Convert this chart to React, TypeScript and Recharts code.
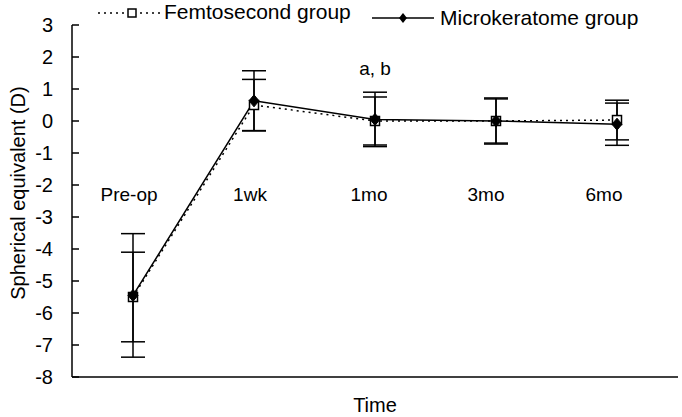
import {
  LineChart,
  Line,
  XAxis,
  YAxis,
  ErrorBar,
  ReferenceDot,
} from 'recharts';

const FONT = '"Liberation Sans", Arial, sans-serif';

const categories = ['Pre-op', '1wk', '1mo', '3mo', '6mo'];
const femtoMean = [-5.5, 0.5, 0.0, 0.0, 0.03];
const femtoSD = [1.4, 0.8, 0.75, 0.69, 0.62];
const microMean = [-5.45, 0.63, 0.05, 0.0, -0.1];
const microSD = [1.93, 0.94, 0.85, 0.72, 0.66];
const yTicks = [-8, -7, -6, -5, -4, -3, -2, -1, 0, 1, 2, 3];

// in-plot time labels sit a bit below -2
const timeLabelY = -2.3;
const timeLabelDx = [-4, -4, -6, -10, -13];
const noteCategory = '1mo';
const noteY = 1.65;
const noteText = 'a, b';

const data = categories.map((c, i) => ({
  time: c,
  femto: femtoMean[i],
  femtoErr: femtoSD[i],
  micro: microMean[i],
  microErr: microSD[i],
}));

function SquareDot(props: any) {
  const { cx, cy } = props;
  if (cx == null || cy == null) return null;
  return <rect x={cx - 4.5} y={cy - 4.5} width={9} height={9} fill="#fff" stroke="#000" strokeWidth={1.5} />;
}

function DiamondDot(props: any) {
  const { cx, cy } = props;
  if (cx == null || cy == null) return null;
  return (
    <polygon
      points={`${cx},${cy - 6} ${cx + 5},${cy} ${cx},${cy + 6} ${cx - 5},${cy}`}
      fill="#000"
      stroke="#000"
    />
  );
}

function LegendBox() {
  const text = { position: 'absolute' as const, fontSize: 21, fontFamily: FONT, color: '#000', whiteSpace: 'nowrap' as const, lineHeight: '22px' };
  return (
    <div style={{ position: 'absolute', left: 0, top: 0, width: 682, height: 30 }}>
      <svg style={{ position: 'absolute', left: 98, top: 3 }} width={62} height={20}>
        <line x1={0} y1={10} x2={62} y2={10} stroke="#000" strokeWidth={1.5} strokeDasharray="2 4" />
        <rect x={30} y={6} width={8} height={8} fill="#fff" stroke="#000" strokeWidth={1.5} />
      </svg>
      <span style={{ ...text, left: 164, top: 1 }}>Femtosecond group</span>
      <svg style={{ position: 'absolute', left: 372, top: 8 }} width={62} height={20}>
        <line x1={0} y1={10} x2={62} y2={10} stroke="#000" strokeWidth={1.5} />
        <polygon points="31,5 35,10 31,15 27,10" fill="#000" />
      </svg>
      <span style={{ ...text, left: 440, top: 7 }}>Microkeratome group</span>
    </div>
  );
}

export default function App() {
  return (
    <div style={{ position: 'absolute', left: 0, top: 0, width: 682, height: 417, background: '#fff' }}>
      <LineChart width={682} height={417} data={data} margin={{ top: 25, right: 4, bottom: 10, left: 0 }}>
        <XAxis
          dataKey="time"
          height={30}
          tick={false}
          tickLine={false}
          axisLine={{ stroke: '#000', strokeWidth: 1.5 }}
          padding={{ left: 61, right: 61 }}
          label={{ value: 'Time', position: 'insideBottom', offset: -5, fill: '#000', fontSize: 20, fontFamily: FONT }}
        />
        <YAxis
          domain={[-8, 3]}
          ticks={yTicks}
          interval={0}
          width={72}
          tickSize={-7}
          tickMargin={26}
          axisLine={{ stroke: '#000', strokeWidth: 1.5 }}
          tickLine={{ stroke: '#000', strokeWidth: 1.5 }}
          tick={{ fill: '#000', fontSize: 20, fontFamily: FONT }}
          label={{
            value: 'Spherical equivalent (D)',
            angle: -90,
            position: 'insideLeft',
            offset: 18,
            dy: -8,
            style: { textAnchor: 'middle' },
            fill: '#000',
            fontSize: 20,
            fontFamily: FONT,
          }}
        />
        {categories.map((c, i) => (
          <ReferenceDot
            key={c}
            x={c}
            y={timeLabelY}
            r={0}
            fill="none"
            stroke="none"
            label={{ value: c, position: 'center', dx: timeLabelDx[i], fill: '#000', fontSize: 19, fontFamily: FONT }}
          />
        ))}
        <ReferenceDot
          x={noteCategory}
          y={noteY}
          r={0}
          fill="none"
          stroke="none"
          label={{ value: noteText, position: 'center', fill: '#000', fontSize: 19, fontFamily: FONT }}
        />
        <Line
          dataKey="femto"
          stroke="#000"
          strokeWidth={1.5}
          strokeDasharray="2 4"
          dot={<SquareDot />}
          activeDot={false}
          isAnimationActive={false}
        >
          <ErrorBar dataKey="femtoErr" width={12} stroke="#000" strokeWidth={1.5} direction="y" />
        </Line>
        <Line
          dataKey="micro"
          stroke="#000"
          strokeWidth={1.5}
          dot={<DiamondDot />}
          activeDot={false}
          isAnimationActive={false}
        >
          <ErrorBar dataKey="microErr" width={12} stroke="#000" strokeWidth={1.5} direction="y" />
        </Line>
      </LineChart>
      <LegendBox />
    </div>
  );
}
